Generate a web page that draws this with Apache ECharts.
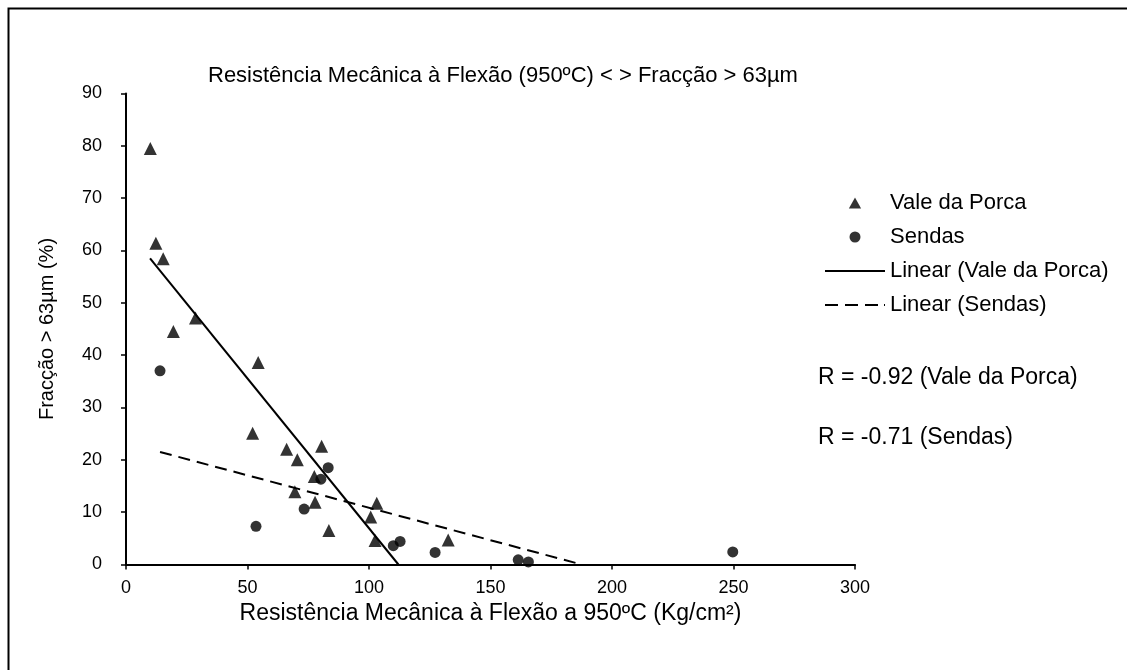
<!DOCTYPE html>
<html>
<head>
<meta charset="utf-8">
<script src="https://cdn.jsdelivr.net/npm/echarts@6/dist/echarts.min.js"></script>
<style>
html,body{margin:0;padding:0;background:#fff;}
#chart{width:1127px;height:670px;}
</style>
</head>
<body>
<div id="chart"></div>
<script>
// Data
var valePorca = [
  [10, 79.5], [12.3, 61.4], [15.3, 58.4], [19.5, 44.5], [28.6, 47.1],
  [54.4, 38.6], [52.1, 25.1], [66.1, 22.0], [80.5, 22.6], [70.5, 20.0],
  [77.5, 16.8], [69.5, 13.9], [77.8, 11.9], [83.5, 6.5], [103.2, 11.7],
  [100.7, 9.1], [102.5, 4.6], [132.6, 4.7]
];
var sendas = [
  [14, 37], [53.5, 7.3], [73.3, 10.6], [83.2, 18.5], [80.2, 16.3],
  [110, 3.6], [112.8, 4.4], [127.2, 2.3], [161.4, 0.9], [165.6, 0.5],
  [249.7, 2.4]
];
var trendVale = [[9.9, 58.5], [112.1, 0]];
var trendSendas = [[14, 21.5], [187.5, 0]];
var seriesNames = ['Vale da Porca', 'Sendas', 'Linear (Vale da Porca)', 'Linear (Sendas)'];
var rTexts = ['R = -0.92 (Vale da Porca)', 'R = -0.71 (Sendas)'];
var titleText = 'Resistência Mecânica à Flexão (950ºC) < > Fracção > 63µm';
var xName = 'Resistência Mecânica à Flexão a 950ºC (Kg/cm²)';
var yName = 'Fracção > 63µm (%)';

var FONT = '"Liberation Sans", Arial, sans-serif';
var legendIcons = [
  'path://M5,0L10,9L0,9Z',
  'circle',
  'path://M0,0h60v2h-60z',
  'path://M0,0h13v2h-13z M20,0h13v2h-13z M40,0h13v2h-13z M59,0h1v2h-1z'
];
var chart = echarts.init(document.getElementById('chart'));
chart.setOption({
  animation: false,
  backgroundColor: '#fff',
  title: {
    text: titleText,
    left: 203, top: 60,
    textStyle: {fontFamily: FONT, fontSize: 22, fontWeight: 'normal', color: '#000'}
  },
  grid: {left: 126, right: 272, top: 93.5, bottom: 105.5},
  xAxis: {
    type: 'value', min: 0, max: 300, interval: 50,
    name: xName, nameLocation: 'middle', nameGap: 29,
    nameTextStyle: {fontFamily: FONT, fontSize: 23, color: '#000'},
    axisLine: {lineStyle: {color: '#000', width: 2}},
    axisTick: {show: true, length: 5, lineStyle: {color: '#000', width: 1.5}},
    axisLabel: {fontFamily: FONT, fontSize: 18, color: '#000', margin: 15},
    splitLine: {show: false}
  },
  yAxis: {
    type: 'value', min: 0, max: 90, interval: 10,
    name: yName, nameLocation: 'middle', nameGap: 69,
    nameTextStyle: {fontFamily: FONT, fontSize: 20, color: '#000'},
    axisLine: {show: true, lineStyle: {color: '#000', width: 2}},
    axisTick: {show: true, length: 5, lineStyle: {color: '#000', width: 1.5}},
    axisLabel: {fontFamily: FONT, fontSize: 18, color: '#000', margin: 24},
    splitLine: {show: false}
  },
  legend: {
    orient: 'vertical',
    left: 820, top: 187,
    itemWidth: 60, itemHeight: 11, itemGap: 12,
    textStyle: {fontFamily: FONT, fontSize: 22, color: '#000'},
    itemStyle: {color: '#000', borderWidth: 0},
    data: seriesNames.map(function (n, i) { return {name: n, icon: legendIcons[i]}; })
  },
  series: [
    {name: seriesNames[0], type: 'scatter', symbol: 'triangle', symbolSize: 13,
     itemStyle: {color: '#000'}, data: valePorca, z: 3},
    {name: seriesNames[1], type: 'scatter', symbol: 'circle', symbolSize: 11,
     itemStyle: {color: '#000'}, data: sendas, z: 3},
    {name: seriesNames[2], type: 'line', symbol: 'none', data: trendVale,
     lineStyle: {color: '#000', width: 2}, itemStyle: {color: '#000'}},
    {name: seriesNames[3], type: 'line', symbol: 'none', data: trendSendas,
     lineStyle: {color: '#000', width: 2, type: [12, 7]}, itemStyle: {color: '#000'}}
  ],
  graphic: [
    {type: 'rect', left: 6, top: 6, shape: {width: 1200, height: 700},
     style: {fill: 'none', stroke: '#000', lineWidth: 2}, silent: true},
    {type: 'text', left: 818, top: 366,
     style: {text: rTexts[0], font: '23px ' + FONT, fill: '#000'}},
    {type: 'text', left: 818, top: 426,
     style: {text: rTexts[1], font: '23px ' + FONT, fill: '#000'}}
  ]
});
</script>
</body>
</html>
